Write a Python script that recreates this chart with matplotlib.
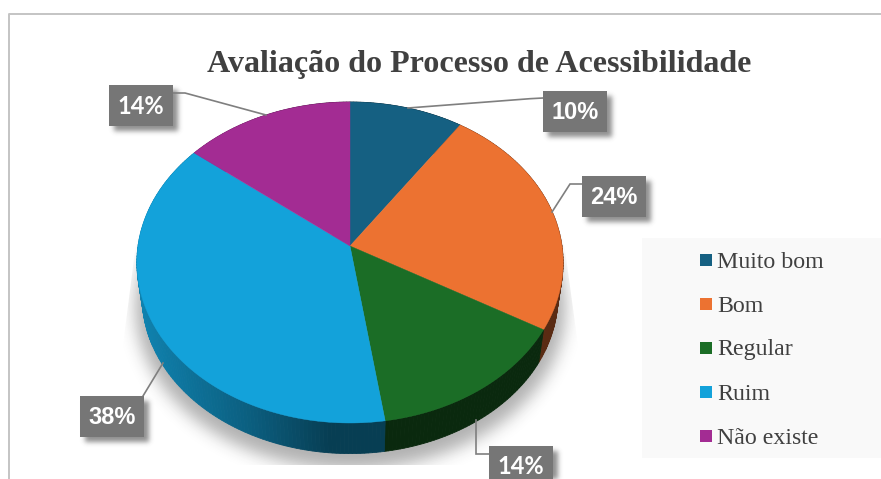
import numpy as np
import matplotlib
matplotlib.use("Agg")
import matplotlib.pyplot as plt
from matplotlib.patches import Polygon, Rectangle

W, H = 881, 479

title = "Avaliação do Processo de Acessibilidade"
categories = ["Muito bom", "Bom", "Regular", "Ruim", "Não existe"]
counts = [4, 10, 6, 16, 6]
colors = ["#156082", "#EC7231", "#1B6D26", "#13A2DA", "#A32C93"]
label_text = ["10%", "24%", "14%", "38%", "14%"]
label_fonts = ["Liberation Sans", "Liberation Sans", "Lato", "Liberation Sans", "Lato"]
# label boxes (left, top) and leader paths in pixels
box_pos = [(543, 91), (582, 176), (489, 446), (80, 396), (109, 85)]
leaders = [
    [(543, 98), (530, 98.7), (408, 108)],
    [(582, 184), (570, 184), (552, 212)],
    [(489, 454), (476, 454), (476, 420)],
    [(143, 396), (163, 363)],
    [(173, 93), (185, 93), (266, 115)],
]
BOX_W, BOX_H = 64, 41

CX, CY = 350.0, 246.0
R, S, K = 212.0, 158.8, 0.1028
SIDE_SCALE, SIDE_DROP = 0.975, 35.0


def rim(theta):
    """theta clockwise from 12 o'clock, radians; perspective-projected disc."""
    u, v = np.sin(theta), np.cos(theta)
    w = 1 + K * v
    return CX + R * u / w, CY - S * v / w


def lower(x, y):
    return CX + SIDE_SCALE * (x - CX), CY + SIDE_DROP + SIDE_SCALE * (y - CY)


def blur(a, sigma):
    n = int(3 * sigma) + 1
    g = np.exp(-0.5 * (np.arange(-n, n + 1) / sigma) ** 2)
    g /= g.sum()
    a = np.apply_along_axis(lambda m: np.convolve(m, g, mode="same"), 0, a)
    a = np.apply_along_axis(lambda m: np.convolve(m, g, mode="same"), 1, a)
    return a


def shade(x):
    return np.interp(x, [140, 250, 330, 600], [0.80, 0.58, 0.38, 0.38])


fig = plt.figure(figsize=(W / 100, H / 100), dpi=100, facecolor="white")
ax = fig.add_axes([0, 0, 1, 1])
ax.set_xlim(0, W)
ax.set_ylim(H, 0)
ax.axis("off")

# chart frame
ax.plot([9, 9, W + 2], [H + 2, 13.5, 13.5], color="#C4C4C4", lw=1.4, zorder=1)

# legend background
ax.add_patch(Rectangle((642, 238), W - 642, 220, fc="#F9F9F9", ec="none", zorder=1))

# pie shadow
yy, xx = np.mgrid[0:H, 0:W]
th = np.radians(np.arange(0, 360.5, 1))
ox, oy = lower(*rim(th))
sy = CY + SIDE_DROP + 9
ex = CX + 1.035 * (ox - CX)
ey = sy + 1.035 * (oy - (CY + SIDE_DROP))
rel = np.mod(np.arctan2(xx - CX, -(yy - sy)), 2 * np.pi)
ang = np.mod(np.arctan2(ex - CX, -(ey - sy)), 2 * np.pi)
order = np.argsort(ang)
edge_r = np.interp(rel, ang[order], np.hypot(ex - CX, ey - sy)[order])
mask = (np.hypot(xx - CX, yy - sy) < edge_r).astype(float)
alpha = blur(mask, 8.0) * 0.36
img = np.zeros((H, W, 4))
img[..., :3] = 0.15
img[..., 3] = alpha
im = ax.imshow(img, extent=(0, W, H, 0), zorder=2, interpolation="bilinear", aspect="auto")
clip = Polygon([(137, 235), (123, 345), (123, 465), (578, 465), (578, 345), (563, 235)],
               transform=ax.transData, fc="none", ec="none")
ax.add_patch(clip)
im.set_clip_path(clip)
ax.set_xlim(0, W)
ax.set_ylim(H, 0)

# slices
total = sum(counts)
cum = np.cumsum([0] + counts) / total * 2 * np.pi
for i, col in enumerate(colors):
    a0, a1 = cum[i], cum[i + 1]
    ts = np.linspace(a0, a1, max(int(np.degrees(a1 - a0)), 2) + 1)
    rgb = np.array(matplotlib.colors.to_rgb(col))
    xs, ys = rim(ts)
    lx, ly = lower(xs, ys)
    for j in range(len(ts) - 1):
        xm = (xs[j] + xs[j + 1]) / 2
        c = np.clip(rgb * shade(xm), 0, 1)
        ax.add_patch(Polygon([(xs[j], ys[j]), (xs[j + 1], ys[j + 1]),
                              (lx[j + 1], ly[j + 1]), (lx[j], ly[j])],
                             fc=c, ec=c, lw=0.6, zorder=3))
for i, col in enumerate(colors):
    a0, a1 = cum[i], cum[i + 1]
    ts = np.linspace(a0, a1, 200)
    xs, ys = rim(ts)
    ax.add_patch(Polygon(np.r_[[[CX, CY]], np.c_[xs, ys]], fc=col, ec=col, lw=0.3, zorder=4))

# label shadows
sh = np.zeros((H, W))
for (bx, by) in box_pos:
    sh[by + 5:by + BOX_H + 5, bx + 5:bx + BOX_W + 5] = 1
img2 = np.zeros((H, W, 4))
img2[..., :3] = 0.2
img2[..., 3] = blur(sh, 2.5) * 0.55
ax.imshow(img2, extent=(0, W, H, 0), zorder=5, interpolation="bilinear", aspect="auto")
ax.set_xlim(0, W)
ax.set_ylim(H, 0)

# leaders and labels
for path in leaders:
    p = np.array(path)
    ax.plot(p[:, 0], p[:, 1], color="#7F7F7F", lw=1.2, zorder=6, solid_joinstyle="miter")
for (bx, by), txt, fnt in zip(box_pos, label_text, label_fonts):
    ax.add_patch(Rectangle((bx, by), BOX_W, BOX_H, fc="#767676", ec="none", zorder=7, clip_on=True))
    ax.text(bx + BOX_W / 2, by + BOX_H / 2 + 0.5, txt, color="white", fontsize=17,
            family=fnt, weight="bold", ha="center", va="center", zorder=8)

# title
ax.text(479.5, 64, title, family="Liberation Serif", weight="bold", fontsize=23.1,
        color="#404040", ha="center", va="center", zorder=8)

# legend
leg_y = [260, 304, 348, 392, 436]
for cat, col, y in zip(categories, colors, leg_y):
    ax.add_patch(Rectangle((700, y - 6), 12, 12, fc=col, ec="none", zorder=8))
    ax.text(717, y + 2, cat, family="Liberation Serif", fontsize=17.2, color="#404040",
            ha="left", va="center", zorder=8)

fig.savefig("out.png", dpi=100, facecolor="white")
